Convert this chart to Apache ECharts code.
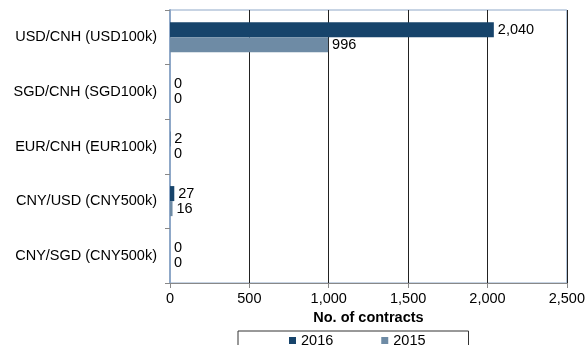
<!DOCTYPE html>
<html lang="en">
<head>
    <meta charset="UTF-8">
    <title>Contracts</title>
    <style>
        body{ margin: 0; }
        #main { width: 588px; height: 345px; }
    </style>
</head>
<body>
    <div id="main"></div>
    <script src="https://cdn.jsdelivr.net/npm/echarts@6/dist/echarts.min.js"></script>
    <script>
        var categories = ['USD/CNH (USD100k)', 'SGD/CNH (SGD100k)', 'EUR/CNH (EUR100k)', 'CNY/USD (CNY500k)', 'CNY/SGD (CNY500k)']
        var values2016 = [2040, 0, 2, 27, 0]
        var values2015 = [996, 0, 0, 16, 0]
        var xTicks = [0, 500, 1000, 1500, 2000, 2500]

        var font = 'Liberation Sans, Arial, sans-serif'
        var fs = 14.5
        var myChart = echarts.init(document.getElementById('main'))

        function fmt(v) {
            return Number(v).toLocaleString('en-US')
        }

        var option = {
            animation: false,
            backgroundColor: '#fff',
            textStyle: { fontFamily: font },
            grid: {
                left: 170, right: 17, top: 10, bottom: 62,
                show: true, borderColor: '#8fa8c8', borderWidth: 1
            },
            legend: {
                data: ['2016', '2015'],
                left: 238, top: 331,
                icon: 'rect', itemWidth: 7, itemHeight: 7, itemGap: 48,
                padding: [2, 43, 6, 51],
                borderColor: '#333', borderWidth: 1,
                textStyle: { fontSize: fs, color: '#000', fontFamily: font }
            },
            xAxis: {
                type: 'value',
                min: xTicks[0], max: xTicks[xTicks.length - 1], interval: 500,
                name: 'No. of contracts', nameLocation: 'middle', nameGap: 26,
                nameTextStyle: { fontWeight: 'bold', fontSize: fs, color: '#000', fontFamily: font },
                axisLine: { show: true, lineStyle: { color: '#888' } },
                axisTick: { show: true, length: 5, lineStyle: { color: '#888' } },
                axisLabel: { fontSize: fs, color: '#000', margin: 8, formatter: fmt },
                splitLine: { show: true, lineStyle: { color: '#222' } }
            },
            yAxis: {
                type: 'category', data: categories, inverse: true,
                axisLine: { show: true, lineStyle: { color: '#8fa8c8', width: 2 } },
                axisTick: { show: true, length: 5, lineStyle: { color: '#888' } },
                axisLabel: { fontSize: fs, color: '#000', margin: 13 }
            },
            series: [{
                name: '2016', type: 'bar', data: values2016,
                barGap: '0%', barCategoryGap: '45%',
                itemStyle: { color: '#17446b' },
                label: { show: true, position: 'right', distance: 4, fontSize: fs, color: '#000', formatter: function(p) { return fmt(p.value) } }
            }, {
                name: '2015', type: 'bar', data: values2015,
                barGap: '0%', barCategoryGap: '45%',
                itemStyle: { color: '#6e8ba5' },
                label: { show: true, position: 'right', distance: 4, fontSize: fs, color: '#000', formatter: function(p) { return fmt(p.value) } }
            }]
        }
        myChart.setOption(option)
    </script>
</body>
</html>
